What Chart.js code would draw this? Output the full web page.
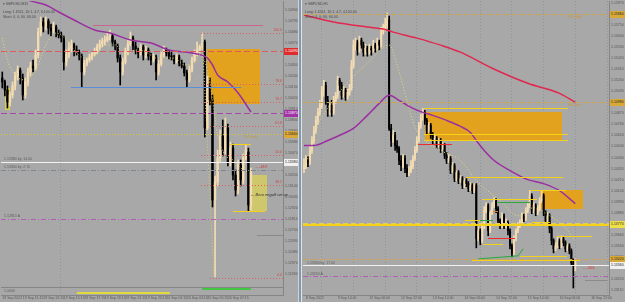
<!DOCTYPE html>
<html><head><meta charset="utf-8">
<script src="https://cdn.jsdelivr.net/npm/chart.js@4.4.1/dist/chart.umd.min.js"></script>
<style>
html,body{margin:0;padding:0;width:625px;height:302px;overflow:hidden;background:#a8a8a8;}
canvas{position:absolute;top:0;}
#cl{left:0;} #cr{left:302px;}
#sep{position:absolute;left:298px;top:0;width:2px;height:302px;background:#8397ab;border-left:1px solid #cbd3db;border-right:1px solid #dde3e8;}
</style></head><body>
<canvas id="cl" width="298" height="302"></canvas>
<div id="sep"></div>
<canvas id="cr" width="323" height="302"></canvas>
<script>
// ================= LEFT PANEL : GBPUSD,M15 =================
const leftTimeLabels = ['19 Sep 2022','19 Sep 11:15','19 Sep 13:15','19 Sep 15:15','19 Sep 17:15','19 Sep 19:15','19 Sep 21:15','19 Sep 23:15','20 Sep 01:15','20 Sep 03:15','20 Sep 05:15','20 Sep 07:15'];
const leftTimeTickIdx = [0,8,16,24,32,40,48,56,64,72,80,88];
const leftPriceTicks = [1.1490,1.1479,1.1468,1.1457,1.1446,1.1435,1.1424,1.1413,1.1402,1.1391,1.1380,1.1369,1.1358,1.1347,1.1336,1.1325,1.1314,1.1303,1.1292,1.1281,1.1270,1.1259,1.1248,1.1237,1.1226];
const leftOpen = [1.1422,1.1418,1.1410,1.1398,1.1405,1.1414,1.1424,1.1430,1.1422,1.1405,
1.1418,1.1428,1.1434,1.1432,1.1445,1.1468,1.1478,1.1474,1.1479,1.1472,
1.1469,1.1473,1.1467,1.1465,1.1462,1.1438,1.1445,1.1452,1.1455,1.1450,
1.1448,1.1444,1.1428,1.1437,1.1440,1.1443,1.1446,1.1448,1.1453,1.1456,
1.1459,1.1460,1.1463,1.1464,1.1458,1.1454,1.1442,1.1428,1.1438,1.1448,
1.1456,1.1462,1.1454,1.1450,1.1447,1.1453,1.1445,1.1450,1.1444,1.1440,
1.1443,1.1428,1.1436,1.1445,1.1450,1.1447,1.1444,1.1443,1.1439,1.1443,
1.1437,1.1434,1.1427,1.1420,1.1430,1.1440,1.1446,1.1450,1.1453,1.1458,
1.1372,1.1416,1.1400,1.1300,1.1318,1.1342,1.1364,1.1350,1.1372,1.1338,
1.1352,1.1325,1.1310,1.1335,1.1320,1.1342,1.1348,1.1295];
const leftHigh = [1.1428,1.1420,1.1414,1.1408,1.1418,1.1428,1.1434,1.1432,1.1426,1.1422,
1.1432,1.1438,1.1440,1.1450,1.1472,1.1483,1.1482,1.1483,1.1481,1.1476,
1.1478,1.1475,1.1470,1.1468,1.1464,1.1450,1.1458,1.1460,1.1457,1.1454,
1.1450,1.1446,1.1440,1.1442,1.1446,1.1448,1.1452,1.1456,1.1460,1.1462,
1.1464,1.1467,1.1470,1.1466,1.1460,1.1456,1.1445,1.1442,1.1452,1.1460,
1.1468,1.1464,1.1458,1.1452,1.1456,1.1455,1.1454,1.1452,1.1447,1.1446,
1.1445,1.1440,1.1448,1.1454,1.1452,1.1450,1.1448,1.1445,1.1446,1.1445,
1.1440,1.1437,1.1430,1.1434,1.1443,1.1450,1.1458,1.1455,1.1467,1.1460,
1.1424,1.1422,1.1405,1.1324,1.1350,1.1370,1.1380,1.1382,1.1376,1.1358,
1.1356,1.1330,1.1340,1.1340,1.1346,1.1355,1.1352,1.1332];
const leftLow = [1.1412,1.1404,1.1392,1.1394,1.1402,1.1410,1.1420,1.1416,1.1400,1.1402,
1.1414,1.1424,1.1428,1.1430,1.1442,1.1464,1.1468,1.1470,1.1466,1.1464,
1.1467,1.1463,1.1462,1.1458,1.1430,1.1434,1.1442,1.1448,1.1444,1.1445,
1.1440,1.1413,1.1425,1.1434,1.1438,1.1440,1.1444,1.1446,1.1450,1.1453,
1.1455,1.1458,1.1460,1.1454,1.1450,1.1438,1.1415,1.1425,1.1436,1.1445,
1.1454,1.1450,1.1446,1.1442,1.1445,1.1440,1.1442,1.1440,1.1435,1.1438,
1.1420,1.1425,1.1434,1.1443,1.1444,1.1441,1.1440,1.1436,1.1437,1.1434,
1.1432,1.1424,1.1413,1.1418,1.1428,1.1438,1.1444,1.1447,1.1450,1.1363,
1.1370,1.1395,1.1293,1.1223,1.1314,1.1338,1.1344,1.1346,1.1334,1.1334,
1.1320,1.1304,1.1306,1.1314,1.1316,1.1340,1.1289,1.1290];
const leftClose = [1.1418,1.1410,1.1398,1.1405,1.1414,1.1424,1.1430,1.1422,1.1405,1.1418,
1.1428,1.1434,1.1432,1.1445,1.1468,1.1478,1.1474,1.1479,1.1472,1.1469,
1.1473,1.1467,1.1465,1.1462,1.1438,1.1445,1.1452,1.1455,1.1450,1.1448,
1.1444,1.1428,1.1437,1.1440,1.1443,1.1446,1.1448,1.1453,1.1456,1.1459,
1.1460,1.1463,1.1464,1.1458,1.1454,1.1442,1.1428,1.1438,1.1448,1.1456,
1.1462,1.1454,1.1450,1.1447,1.1453,1.1445,1.1450,1.1444,1.1440,1.1443,
1.1428,1.1436,1.1445,1.1450,1.1447,1.1444,1.1443,1.1439,1.1443,1.1437,
1.1434,1.1427,1.1420,1.1430,1.1440,1.1446,1.1450,1.1453,1.1458,1.1372,
1.1416,1.1400,1.1300,1.1318,1.1342,1.1364,1.1350,1.1372,1.1338,1.1352,
1.1325,1.1310,1.1335,1.1320,1.1342,1.1350,1.1295,1.1328];
const leftPurpleIdx = [0,10,17,22,28,36,42,50,58,65,74,80,82,84,88,92,97];
const leftPurpleVal = [1.1514,1.1500,1.1495,1.1488,1.1480,1.1470,1.1467,1.1460,1.1457,1.1450,1.1447,1.1442,1.1435,1.1425,1.1418,1.1407,1.1388];
const leftYellowIdx = [0,2,5,9,13,17,21,25,28,32,36,40,44,48,52,56,60,64,67,71,75,77,80,82,84,87,90,93,96];
const leftYellowVal = [1.1462,1.1440,1.1425,1.1420,1.1430,1.1455,1.1467,1.1460,1.1450,1.1442,1.1445,1.1455,1.1455,1.1445,1.1450,1.1448,1.1442,1.1442,1.1442,1.1435,1.1438,1.1445,1.1430,1.1400,1.1365,1.1345,1.1340,1.1332,1.1328];
const leftFibDiagIdx = [77.9,82.6];
const leftFibDiagVal = [1.1467,1.1222];
// horizontal objects: price, from index, to index (null = edge), kind
const leftLines = [
  [1.1475,35.4,101.7,'pink'],[1.1449,null,null,'redDash'],[1.1413,26.8,93.1,'blue'],
  [1.1387,null,null,'purpleDash'],[1.1366,null,null,'yellowDot'],[1.1338,null,null,'white'],
  [1.1330,null,null,'grayDashDot'],[1.1281,null,null,'purpleDashDot'],[1.1265,99.4,null,'gray'],
  [1.1356,88.8,97.0,'yellow'],[1.1289,90.0,102.5,'yellow']];
const leftFibLevels = [1.1467,1.1416,1.1398,1.1374,1.1345,1.1315,1.1222];
const leftFibLabels = ['100.0','78.6','70.7','61.8','50.0','38.2','0.0'];
const leftFibFrom = [77.5,77.5,77.5,81,77.5,77.5,81];
const leftBoxes = [[79.9,100.5,1.1451,1.1396,'orange'],[96.2,103.3,1.1325,1.1289,'olive'],[1.1,3.0,1.1412,1.1390,'yellowBox']];
const leftSeparators = [22.5];
// indicator sub-window (values 0..1)
const leftSubGreenIdx = [77.9,97.0];
const leftSubGreenVal = [0.75,0.75];
const leftSubYellowIdx = [29.1,65.4];
const leftSubYellowVal = [0.25,0.25];
const leftTags = [[1.1449,'red'],[1.1387,'purple'],[1.1366,'gold'],[1.1338,'white']];
const leftTexts = [
  ['Sr1 Low',94.5,1.1363,'goldText'],['\u2190 Bear engulf set up',96.8,1.1305,'note'],
  ['\u2190 -18.9',98.5,1.1333,'redText'],['1.13380 by: 14.00',0.7,1.1341,'lineLabel'],
  ['1.13300 by: 2.70',0.7,1.1333,'lineLabel'],['1.12810 A',0.7,1.1284,'lineLabel']];
const leftSubTexts = [['1.0000',0.7,0.5,'lineLabel']];
const leftHeader = ['\u25BE GBPUSD,M15','Long: 1.1561, 10:1, 4.7, 6,100.00','Short: 0, 0, 60, 60.00'];

// ================= RIGHT PANEL : GBPUSD,H1 =================
const rightTimeLabels = ['8 Sep 2022','9 Sep 14:00','12 Sep 06:00','12 Sep 22:00','13 Sep 14:00','14 Sep 06:00','14 Sep 22:00','15 Sep 14:00','16 Sep 06:00','16 Sep 22:00'];
const rightTimeTickIdx = [1,17,33,49,65,81,97,113,129,145];
const rightPriceTicks = [1.1597,1.1586,1.1575,1.1564,1.1553,1.1542,1.1531,1.1520,1.1509,1.1498,1.1487,1.1476,1.1465,1.1454,1.1443,1.1432,1.1421,1.1410,1.1399,1.1388,1.1377,1.1366,1.1355,1.1344,1.1333,1.1322,1.1311];
const rightOpen = [1.1432,1.1435,1.1440,1.1438,1.1450,1.1460,1.1470,1.1480,1.1488,1.1495,
1.1510,1.1515,1.1500,1.1490,1.1495,1.1488,1.1500,1.1505,1.1520,1.1515,
1.1505,1.1510,1.1503,1.1508,1.1512,1.1535,1.1555,1.1558,1.1550,1.1560,
1.1555,1.1548,1.1552,1.1548,1.1552,1.1550,1.1555,1.1552,1.1558,1.1555,
1.1570,1.1572,1.1575,1.1580,1.1472,1.1460,1.1465,1.1455,1.1452,1.1440,
1.1435,1.1442,1.1432,1.1428,1.1430,1.1435,1.1442,1.1450,1.1460,1.1475,
1.1482,1.1488,1.1480,1.1470,1.1475,1.1465,1.1460,1.1462,1.1455,1.1460,
1.1452,1.1455,1.1445,1.1440,1.1442,1.1430,1.1435,1.1422,1.1428,1.1420,
1.1422,1.1415,1.1420,1.1417,1.1412,1.1415,1.1410,1.1415,1.1362,1.1370,
1.1360,1.1375,1.1390,1.1395,1.1370,1.1388,1.1395,1.1400,1.1392,1.1380,
1.1375,1.1385,1.1375,1.1378,1.1370,1.1355,1.1348,1.1362,1.1370,1.1375,
1.1378,1.1385,1.1382,1.1390,1.1395,1.1405,1.1390,1.1395,1.1388,1.1392,
1.1400,1.1405,1.1388,1.1380,1.1385,1.1372,1.1360,1.1352,1.1355,1.1360,
1.1355,1.1362,1.1358,1.1352,1.1355,1.1350,1.1338,1.1335];
const rightHigh = [1.1442,1.1445,1.1444,1.1454,1.1464,1.1474,1.1484,1.1492,1.1500,1.1514,
1.1520,1.1518,1.1504,1.1498,1.1500,1.1504,1.1508,1.1524,1.1522,1.1518,
1.1514,1.1512,1.1511,1.1516,1.1540,1.1560,1.1562,1.1560,1.1564,1.1562,
1.1558,1.1556,1.1554,1.1556,1.1554,1.1560,1.1557,1.1562,1.1560,1.1573,
1.1576,1.1582,1.1587,1.1584,1.1476,1.1470,1.1468,1.1460,1.1454,1.1445,
1.1446,1.1445,1.1436,1.1434,1.1440,1.1445,1.1454,1.1464,1.1478,1.1486,
1.1492,1.1490,1.1482,1.1478,1.1477,1.1468,1.1466,1.1464,1.1462,1.1462,
1.1458,1.1457,1.1448,1.1446,1.1444,1.1438,1.1437,1.1430,1.1430,1.1425,
1.1424,1.1422,1.1422,1.1419,1.1418,1.1417,1.1417,1.1417,1.1374,1.1372,
1.1378,1.1394,1.1398,1.1397,1.1390,1.1398,1.1403,1.1402,1.1394,1.1382,
1.1388,1.1387,1.1382,1.1380,1.1372,1.1357,1.1365,1.1372,1.1378,1.1381,
1.1388,1.1387,1.1393,1.1398,1.1410,1.1407,1.1398,1.1397,1.1395,1.1403,
1.1410,1.1407,1.1390,1.1388,1.1387,1.1374,1.1362,1.1358,1.1364,1.1362,
1.1365,1.1364,1.1360,1.1357,1.1357,1.1352,1.1342,1.1342];
const rightLow = [1.1428,1.1432,1.1434,1.1436,1.1447,1.1457,1.1467,1.1476,1.1485,1.1492,
1.1504,1.1496,1.1484,1.1486,1.1484,1.1486,1.1497,1.1502,1.1510,1.1501,
1.1503,1.1500,1.1501,1.1505,1.1510,1.1532,1.1550,1.1545,1.1548,1.1552,
1.1544,1.1546,1.1544,1.1546,1.1545,1.1548,1.1548,1.1550,1.1550,1.1553,
1.1566,1.1569,1.1572,1.1470,1.1454,1.1458,1.1450,1.1448,1.1436,1.1430,
1.1433,1.1428,1.1424,1.1425,1.1428,1.1432,1.1440,1.1448,1.1458,1.1472,
1.1480,1.1476,1.1466,1.1468,1.1462,1.1456,1.1458,1.1452,1.1453,1.1448,
1.1450,1.1442,1.1437,1.1438,1.1427,1.1428,1.1419,1.1420,1.1417,1.1418,
1.1412,1.1413,1.1414,1.1409,1.1410,1.1407,1.1408,1.1353,1.1360,1.1356,
1.1358,1.1372,1.1388,1.1365,1.1368,1.1386,1.1393,1.1388,1.1376,1.1372,
1.1373,1.1372,1.1373,1.1366,1.1352,1.1344,1.1346,1.1360,1.1368,1.1373,
1.1376,1.1379,1.1380,1.1388,1.1393,1.1387,1.1388,1.1385,1.1386,1.1390,
1.1398,1.1385,1.1376,1.1378,1.1368,1.1356,1.1348,1.1350,1.1353,1.1352,
1.1353,1.1355,1.1349,1.1350,1.1347,1.1336,1.1313,1.1330];
const rightClose = [1.1435,1.1440,1.1438,1.1450,1.1460,1.1470,1.1480,1.1488,1.1495,1.1510,
1.1515,1.1500,1.1490,1.1495,1.1488,1.1500,1.1505,1.1520,1.1515,1.1505,
1.1510,1.1503,1.1508,1.1512,1.1535,1.1555,1.1558,1.1550,1.1560,1.1555,
1.1548,1.1552,1.1548,1.1552,1.1550,1.1555,1.1552,1.1558,1.1555,1.1570,
1.1572,1.1575,1.1580,1.1472,1.1460,1.1465,1.1455,1.1452,1.1440,1.1435,
1.1442,1.1432,1.1428,1.1430,1.1435,1.1442,1.1450,1.1460,1.1475,1.1482,
1.1488,1.1480,1.1470,1.1475,1.1465,1.1460,1.1462,1.1455,1.1460,1.1452,
1.1455,1.1445,1.1440,1.1442,1.1430,1.1435,1.1422,1.1428,1.1420,1.1422,
1.1415,1.1420,1.1417,1.1412,1.1415,1.1410,1.1415,1.1362,1.1370,1.1360,
1.1375,1.1390,1.1395,1.1370,1.1388,1.1395,1.1400,1.1392,1.1380,1.1375,
1.1385,1.1375,1.1378,1.1370,1.1355,1.1348,1.1362,1.1370,1.1375,1.1378,
1.1385,1.1382,1.1390,1.1395,1.1405,1.1390,1.1395,1.1388,1.1392,1.1400,
1.1405,1.1388,1.1380,1.1385,1.1372,1.1360,1.1352,1.1355,1.1360,1.1355,
1.1362,1.1358,1.1352,1.1355,1.1350,1.1338,1.1335,1.1338];
const rightRedIdx = [0,15,32,40,45,57,69,79,95,113,129,137];
const rightRedVal = [1.1585,1.1578,1.1573,1.1571,1.1568,1.1562,1.1555,1.1548,1.1532,1.1517,1.1507,1.1498];
const rightPurpleIdx = [0,5,12,20,25,32,38,43,48,54,60,65,72,79,84,87,91,96,104,113,121,129,137];
const rightPurpleVal = [1.1455,1.1455,1.1460,1.1467,1.1472,1.1485,1.1497,1.1505,1.1500,1.1493,1.1488,1.1485,1.1480,1.1474,1.1468,1.1460,1.1450,1.1440,1.1430,1.1421,1.1417,1.1410,1.1397];
const rightYellowIdx = [0,3,7,15,23,32,43,47,52,56,61,69,79,87,99,108,116,124,131,137];
const rightYellowVal = [1.1433,1.1450,1.1475,1.1500,1.1520,1.1537,1.1555,1.1535,1.1500,1.1473,1.1460,1.1450,1.1440,1.1420,1.1400,1.1385,1.1393,1.1385,1.1375,1.1360];
const rightTrendIdx = [87.9,108.1,110.6];
const rightTrendVal = [1.1342,1.1345,1.1352];
const rightLines = [
  [1.1586,null,null,'goldDash'],[1.1498,null,null,'goldDash'],
  [1.1492,60.6,133.3,'yellow'],[1.1466,60.6,133.3,'yellow'],[1.1460,60.6,133.3,'yellow'],
  [1.1456,57.6,74.8,'red'],[1.1424,81.8,130.8,'yellow'],[1.1411,113.9,132.3,'yellow'],
  [1.1402,89.9,117.7,'yellow'],[1.1399,98.0,114.1,'green'],[1.1390,95.5,98.0,'orangeLine'],
  [1.1381,81.5,88.9,'yellow'],[1.1381,88.9,95.5,'green'],[1.1379,115.0,124.3,'yellow'],
  [1.1378,null,null,'yellowDash'],[1.1376,null,null,'yellowThick'],
  [1.1365,127.8,145.5,'yellow'],[1.1363,92.9,106.6,'red'],[1.1357,90.4,100.5,'yellow'],
  [1.1345,109.1,132.8,'yellow'],[1.1342,null,null,'goldDash'],[1.1341,84.8,139.4,'yellow'],
  [1.1336,null,null,'white'],[1.1325,null,null,'purpleDashDot'],[1.1321,141.9,153,'gray']];
const rightBoxes = [[61.1,130.3,1.1488,1.1460,'orange'],[119.2,141.0,1.1411,1.1392,'orange']];
const rightTags = [[1.1586,'gold'],[1.1498,'gold'],[1.1377,'yellow'],[1.1342,'gold'],[1.1336,'white']];
const rightTexts = [
  ['Sr1 High',133.3,1.1583,'goldText'],['Sr1 Low',133.3,1.1495,'goldText'],
  ['1.13360 by: 17.00',1.5,1.1338,'lineLabel'],['1.13250 A',1.5,1.1327,'lineLabel'],
  ['\u2190 -43.6',140.4,1.1333,'redText']];
const rightHeader = ['\u25BE GBPUSD,H1','Long: 1.1561, 10:1, 4.7, 4,100.00','Short: 0, 0, 60, 60.00'];

// ================= STYLES =================
const FONT = '"Liberation Sans", "DejaVu Sans", sans-serif';
Chart.defaults.font.family = FONT;
const BULL = '#f3dcb3', BEAR = '#000000';
const TICK_C = '#575757', AXIS_C = '#858585', GRID_C = '#8b96a2';
const LINE_STYLE = {
  pink:{c:'#c9668e',w:1,d:[]}, redDash:{c:'#df5a5a',w:1,d:[6,3]}, blue:{c:'#5b8ed6',w:1,d:[]},
  purpleDash:{c:'#a24aa6',w:1,d:[6,3]}, yellowDot:{c:'#e2c42a',w:1,d:[1,2]}, white:{c:'#f2f2f2',w:1,d:[]},
  grayDashDot:{c:'#7e8790',w:1,d:[5,2,1,2]}, purpleDashDot:{c:'#b15fb3',w:1,d:[5,2,1,2]},
  gray:{c:'#8a8a8a',w:1,d:[]}, yellow:{c:'#f4d21a',w:1,d:[]}, yellowThick:{c:'#f4d21a',w:2,d:[]},
  yellowDash:{c:'#e6cf58',w:1,d:[5,3]}, goldDash:{c:'#cda552',w:1,d:[5,3]}, red:{c:'#ee2a2a',w:1,d:[]},
  green:{c:'#2aa83a',w:1,d:[]}, orangeLine:{c:'#ee7a2a',w:1,d:[]}, fib:{c:'#d86262',w:1,d:[1,2]}};
const BOX_STYLE = {orange:'#e3a21e', olive:'rgba(214,204,96,0.85)', yellowBox:'#d9cf4e'};
const TAG_STYLE = {red:['#e02a2a','#ffffff'], purple:['#a232a6','#ffffff'], gold:['#d9a836','#2a2a2a'], white:['#f0f0f0','#2a2a2a'], yellow:['#efe04a','#2a2a2a']};
const TEXT_STYLE = {goldText:{c:'#c49a34',s:3.5,a:'left'}, note:{c:'#2e2e2e',s:4,a:'left',i:true},
  redText:{c:'#e02a2a',s:3.5,a:'left'}, lineLabel:{c:'#5e5e5e',s:3.5,a:'left'}, fib:{c:'#d04848',s:3.5,a:'right'}, header:{c:'#4a4a4a',s:3.5,a:'left'}};
const HEADER_Y = [4, 12.5, 17.5];

function setFont(ctx, st){ ctx.font = (st.i ? 'italic ' : '') + st.s + 'px ' + FONT; ctx.fillStyle = st.c; ctx.textAlign = st.a; ctx.textBaseline = 'middle'; }

function overlay(P) {
  const hline = (ctx, x0, x1, yy, st) => {
    ctx.strokeStyle = st.c; ctx.lineWidth = st.w; ctx.setLineDash(st.d);
    const yr = st.w % 2 ? Math.round(yy) + 0.5 : Math.round(yy);
    ctx.beginPath(); ctx.moveTo(Math.round(x0), yr); ctx.lineTo(Math.round(x1), yr); ctx.stroke();
  };
  const mainBottom = (chart) => chart.scales.ySub ? chart.scales.ySub.getPixelForValue(1) : chart.chartArea.bottom;
  return {
    id: 'overlay',
    beforeDatasetsDraw(chart) {
      const {ctx, chartArea: a, scales} = chart; const x = scales.x, y = scales.y;
      const mb = mainBottom(chart);
      ctx.save();
      for (const v of P.separators) {
        const xx = Math.round(x.getPixelForValue(v)) + 0.5;
        ctx.strokeStyle = GRID_C; ctx.lineWidth = 1; ctx.setLineDash([1,2]);
        ctx.beginPath(); ctx.moveTo(xx, a.top); ctx.lineTo(xx, a.bottom); ctx.stroke();
      }
      if (scales.ySub) {
        ctx.strokeStyle = AXIS_C; ctx.lineWidth = 1; ctx.setLineDash([]);
        ctx.beginPath(); ctx.moveTo(a.left, Math.round(mb) + 0.5); ctx.lineTo(a.right, Math.round(mb) + 0.5); ctx.stroke();
        for (const [s, i, v, k] of P.subTexts) { setFont(ctx, TEXT_STYLE[k]); ctx.fillText(s, x.getPixelForValue(i), scales.ySub.getPixelForValue(v)); }
      }
      ctx.beginPath(); ctx.rect(a.left, a.top, a.right - a.left, mb - a.top); ctx.clip();
      for (const [i0, i1, p0, p1, k] of P.boxes) {
        const X0 = Math.round(x.getPixelForValue(i0)), X1 = Math.round(x.getPixelForValue(i1));
        const Y0 = Math.round(y.getPixelForValue(p0)), Y1 = Math.round(y.getPixelForValue(p1));
        ctx.fillStyle = BOX_STYLE[k]; ctx.fillRect(X0, Y0, X1 - X0, Y1 - Y0);
      }
      ctx.restore();
    },
    afterDatasetsDraw(chart) {
      const {ctx, chartArea: a, scales} = chart; const x = scales.x, y = scales.y;
      const mb = mainBottom(chart);
      ctx.save();
      ctx.beginPath(); ctx.rect(a.left, a.top, a.right - a.left, mb - a.top); ctx.clip();
      for (const [p, f, t, k] of P.lines) {
        hline(ctx, f == null ? a.left : x.getPixelForValue(f), t == null ? a.right : x.getPixelForValue(t), y.getPixelForValue(p), LINE_STYLE[k]);
      }
      P.fibLevels.forEach((p, i) => hline(ctx, x.getPixelForValue(P.fibFrom[i]), a.right, y.getPixelForValue(p), LINE_STYLE.fib));
      ctx.restore();
      ctx.save();
      P.fibLevels.forEach((p, i) => { setFont(ctx, TEXT_STYLE.fib); ctx.fillText(P.fibLabels[i], a.right - 1, y.getPixelForValue(p) - 2.5); });
      for (const [s, i, p, k] of P.texts) { setFont(ctx, TEXT_STYLE[k]); ctx.fillText(s, x.getPixelForValue(i), y.getPixelForValue(p)); }
      for (const [p, k] of P.tags) {
        const yy = Math.round(y.getPixelForValue(p));
        ctx.fillStyle = TAG_STYLE[k][0]; ctx.fillRect(a.right + 1, yy - 3, chart.width - a.right - 1, 7);
        setFont(ctx, {c: TAG_STYLE[k][1], s: 3.5, a: 'left'}); ctx.fillText(p.toFixed(5), a.right + 2, yy + 0.5);
      }
      P.header.forEach((s, i) => { setFont(ctx, TEXT_STYLE.header); ctx.fillText(s, a.left + 2, HEADER_Y[i]); });
      ctx.restore();
    }
  };
}

function candleSets(O, H, L, C, bodyW) {
  const col = O.map((o, i) => C[i] >= o ? BULL : BEAR);
  return [
    {type:'bar', data: O.map((o, i) => ({x: i, y: [L[i], H[i]]})), backgroundColor: col, barThickness: 1, grouped: false, borderWidth: 0, order: 3},
    {type:'bar', data: O.map((o, i) => ({x: i, y: [o, C[i]]})), backgroundColor: col, barThickness: bodyW, grouped: false, borderWidth: 0, minBarLength: 1, order: 2}
  ];
}
function lineSet(idx, val, color, w, dash, smooth, axis) {
  return {type:'line', data: idx.map((v, i) => ({x: v, y: val[i]})), borderColor: color, borderWidth: w, borderDash: dash,
    pointRadius: 0, fill: false, cubicInterpolationMode: smooth ? 'monotone' : 'default', tension: 0, order: 1,
    yAxisID: axis || 'y', clip: axis ? false : undefined};
}
const fixPad = s => { s.paddingTop = 0; s.paddingBottom = 0; s.paddingLeft = 0; s.paddingRight = 0; };
function xScale(max, tickIdx, labels, showGrid) {
  return {type:'linear', min: -0.5, max: max, offset: false,
    grid: {display: showGrid, drawTicks: false, color: GRID_C, lineWidth: 1},
    border: {display: true, color: AXIS_C, dash: [1,2]},
    afterBuildTicks: s => { s.ticks = tickIdx.map(v => ({value: v})); },
    ticks: {autoSkip: false, maxRotation: 0, minRotation: 0, align: 'start', padding: 1, color: TICK_C, font: {size: 3.5}, callback: (v, i) => labels[i]},
    afterFit: s => { s.height = 7; fixPad(s); }};
}
function yScale(min, max, ticksArr, w) {
  return {type:'linear', position:'right', min: min, max: max,
    grid: {display: false, drawTicks: false}, border: {display: true, color: AXIS_C},
    afterBuildTicks: s => { s.ticks = ticksArr.map(v => ({value: v})); },
    ticks: {padding: 2, color: TICK_C, font: {size: 3.5}, callback: v => v.toFixed(5)},
    afterFit: s => { s.width = w; fixPad(s); }};
}
const baseOpts = {responsive: false, animation: false, devicePixelRatio: 1, events: [],
  plugins: {legend: {display: false}, tooltip: {enabled: false}},
  layout: {padding: {left: 1, top: 1, right: 0, bottom: 0}}};

new Chart(document.getElementById('cl'), {
  type: 'bar',
  data: {datasets: [
    ...candleSets(leftOpen, leftHigh, leftLow, leftClose, 1.7),
    lineSet(leftFibDiagIdx, leftFibDiagVal, '#d9cb6a', 1, [1,2], false),
    lineSet(leftYellowIdx, leftYellowVal, '#e4dc78', 1, [1,2], true),
    lineSet(leftPurpleIdx, leftPurpleVal, '#9a2fa0', 1.5, [], true),
    lineSet(leftSubGreenIdx, leftSubGreenVal, '#22d022', 1.5, [], false, 'ySub'),
    lineSet(leftSubYellowIdx, leftSubYellowVal, '#f4ec1a', 1.5, [], false, 'ySub')]},
  options: Object.assign({}, baseOpts, {scales: {
    x: xScale(109.5, leftTimeTickIdx, leftTimeLabels, false),
    // price window = upper 286 px; lowest 8 px hold the indicator sub-window (ySub 0..1)
    y: yScale(1.1205, 1.1499, leftPriceTicks, 15),
    ySub: {type:'linear', display: false, min: 0, max: 36.75}
  }}),
  plugins: [overlay({lines: leftLines, fibLevels: leftFibLevels, fibLabels: leftFibLabels, fibFrom: leftFibFrom,
    boxes: leftBoxes, separators: leftSeparators, subTexts: leftSubTexts,
    tags: leftTags, texts: leftTexts, header: leftHeader})]
});

new Chart(document.getElementById('cr'), {
  type: 'bar',
  data: {datasets: [
    ...candleSets(rightOpen, rightHigh, rightLow, rightClose, 1.3),
    lineSet(rightYellowIdx, rightYellowVal, '#e4dc78', 1, [1,2], true),
    lineSet(rightTrendIdx, rightTrendVal, '#2aa83a', 1, [], false),
    lineSet(rightPurpleIdx, rightPurpleVal, '#9a2fa0', 1.5, [], true),
    lineSet(rightRedIdx, rightRedVal, '#e0284e', 1.5, [], true)]},
  options: Object.assign({}, baseOpts, {scales: {
    x: xScale(154, rightTimeTickIdx, rightTimeLabels, true),
    y: yScale(1.1306, 1.1599, rightPriceTicks, 16)
  }}),
  plugins: [overlay({lines: rightLines, fibLevels: [], fibLabels: [], fibFrom: [],
    boxes: rightBoxes, separators: [], subTexts: [],
    tags: rightTags, texts: rightTexts, header: rightHeader})]
});
</script></body></html>
